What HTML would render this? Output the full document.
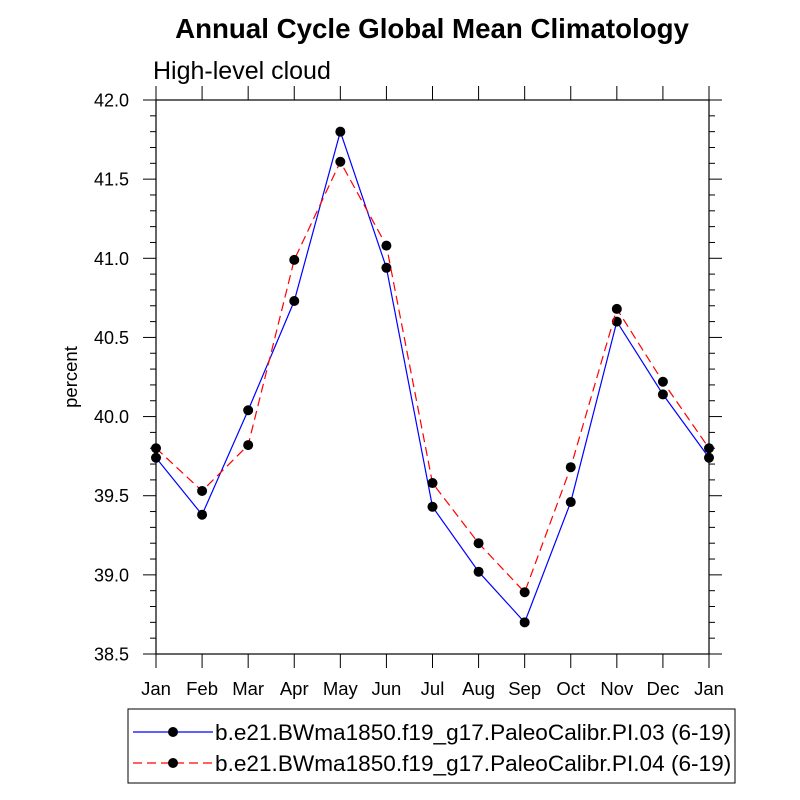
<!DOCTYPE html>
<html><head><meta charset="utf-8"><style>body{margin:0;background:#fff}svg{display:block;font-family:"Liberation Sans",sans-serif}</style></head>
<body>
<svg id="chart" width="800" height="800">
<text x="432" y="38" font-size="27.7" font-weight="bold" text-anchor="middle">Annual Cycle Global Mean Climatology</text>
<text x="153" y="79" font-size="25">High-level cloud</text>
<text transform="translate(77,377) rotate(-90)" font-size="18.5" text-anchor="middle">percent</text>
<rect x="156" y="100" width="553" height="554" fill="none" stroke="#000" stroke-width="1.2"/>
<g id="axes"></g><g id="series"></g>
<g>
<rect x="128" y="709" width="607" height="74" fill="none" stroke="#000" stroke-width="1"/>
<g>
<line x1="133" y1="732" x2="213" y2="732" stroke="#0000ff" stroke-width="1.2"/><circle cx="173" cy="732" r="5" fill="#000"/>
<text x="215" y="740" font-size="22.6">b.e21.BWma1850.f19_g17.PaleoCalibr.PI.03 (6-19)</text></g>
<g>
<line x1="133" y1="763" x2="213" y2="763" stroke="#ff0000" stroke-width="1.2" stroke-dasharray="9,5"/><circle cx="173" cy="763" r="5" fill="#000"/>
<text x="215" y="771" font-size="22.6">b.e21.BWma1850.f19_g17.PaleoCalibr.PI.04 (6-19)</text></g>
</g>
</svg>
<script>
const months=["Jan","Feb","Mar","Apr","May","Jun","Jul","Aug","Sep","Oct","Nov","Dec","Jan"];
const seriesPI03=[39.74,39.38,40.04,40.73,41.80,40.94,39.43,39.02,38.70,39.46,40.60,40.14,39.74];
const seriesPI04=[39.80,39.53,39.82,40.99,41.61,41.08,39.58,39.20,38.89,39.68,40.68,40.22,39.80];
const yTicks=["38.5","39.0","39.5","40.0","40.5","41.0","41.5","42.0"];
const NS="http://www.w3.org/2000/svg";
const X0=156,X1=709,Y0=654,Y1=100,YMIN=38.5,YMAX=42.0;
const xs=i=>X0+(X1-X0)*i/(months.length-1);
const ys=v=>Y0-(v-YMIN)/(YMAX-YMIN)*(Y0-Y1);
function mk(t,a,p){const e=document.createElementNS(NS,t);for(const k in a)e.setAttribute(k,a[k]);p.appendChild(e);return e;}
const ax=document.getElementById('axes');
months.forEach((m,i)=>{const x=xs(i);
 mk('line',{x1:x,y1:Y0,x2:x,y2:Y0+14,stroke:'#000'},ax);
 mk('line',{x1:x,y1:Y1,x2:x,y2:Y1-14,stroke:'#000'},ax);
 const t=mk('text',{x:x,y:Y0+41,'font-size':18.5,'text-anchor':'middle'},ax);t.textContent=m;
 
 
});
for(let v=YMIN;v<=YMAX+1e-9;v+=0.1){const y=ys(v);const major=Math.abs(v*2-Math.round(v*2))<1e-6;const L=major?13:6;
 mk('line',{x1:X0-L,y1:y,x2:X0,y2:y,stroke:'#000'},ax);
 mk('line',{x1:X1,y1:y,x2:X1+L,y2:y,stroke:'#000'},ax);}
yTicks.forEach(s=>{const t=mk('text',{x:X0-27,y:ys(parseFloat(s))+6.5,'font-size':18,'text-anchor':'end'},ax);t.textContent=s;
 
 });
const sg=document.getElementById('series');
function draw(vals,color,dash,name){
 const p=mk('polyline',{points:vals.map((v,i)=>xs(i)+','+ys(v)).join(' '),fill:'none',stroke:color,'stroke-width':1.2,'stroke-dasharray':dash},sg);
 
 
 vals.forEach((v,i)=>{const c=mk('circle',{cx:xs(i),cy:ys(v),r:5,fill:'#000'},sg);
  
  });
}
draw(seriesPI03,'#0000ff','none','pi03');
draw(seriesPI04,'#ff0000','9,5','pi04');
</script>
</body></html>
